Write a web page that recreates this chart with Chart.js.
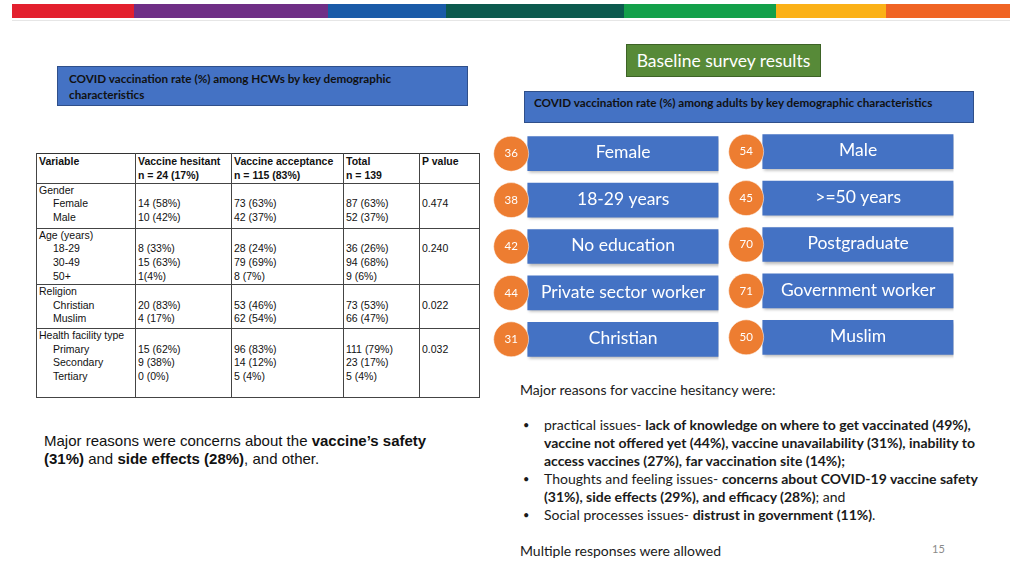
<!DOCTYPE html>
<html>
<head>
<meta charset="utf-8">
<script src="https://cdn.jsdelivr.net/npm/chart.js@4.4.1/dist/chart.umd.min.js"></script>
<style>
    body { margin: 0; background: #fff; }
    #slide { position: relative; width: 1024px; height: 576px; overflow: hidden; font-family: Lato, "Open Sans", sans-serif; color: #1a1a1a; }
    .abs { position: absolute; }
    #stripe { left: 12px; top: 4px; width: 998px; height: 14px; display: flex; }
    #stripe div { height: 100%; }
    #stripe-line { left: 12px; top: 20px; width: 998px; height: 1px; background: #e6e6e6; }
    .hdr { background: #4472c4; border: 1px solid #2f4f8a; box-sizing: border-box; font-weight: bold; color: #111; white-space: nowrap; }
    #hdr-left { left: 57px; top: 66px; width: 411px; height: 40px; font-size: 11.7px; line-height: 16px; padding: 3px 0 0 11px; }
    #hdr-right { left: 524px; top: 91px; width: 450px; height: 32px; font-size: 11.7px; padding: 3px 0 0 9px; }
    #baseline { left: 626px; top: 44px; width: 195px; height: 33px; background: #578a38; border: 1px solid #3d6326; box-sizing: border-box; color: #fff; font-size: 17.5px; text-align: center; line-height: 31px; }
    #tbl { left: 36px; top: 153px; border-collapse: collapse; font-family: "Liberation Sans", Arial, sans-serif; font-size: 10.5px; line-height: 13.8px; color: #111; border: 1.5px solid #333; }
    #tbl td { border-left: 1.5px solid #444; border-right: 1.5px solid #444; vertical-align: top; padding: 0 0 0 2px; white-space: nowrap; }
    #tbl tr { border-bottom: 1.5px solid #444; }
    #tbl .hd td { font-weight: bold; height: 27px; padding-top: 1px; }
    #tbl .grp td { padding-top: 0; }
    .ind { padding-left: 14px; display: inline-block; }
    #para-left { left: 44px; top: 432px; font-family: "Liberation Sans", Arial, sans-serif; font-size: 15px; line-height: 18px; color: #111; white-space: nowrap; }
    .txt { font-size: 14px; line-height: 18px; color: #1a1a1a; white-space: nowrap; }
    .bul { position: absolute; left: -21px; font-size: 11px; }
    #chart-a { left: 474px; top: 112px; }
    #chart-b { left: 709px; top: 110px; }
</style>
</head>
<body>
<div id="slide">
    <div id="stripe" class="abs"></div>
    <div id="stripe-line" class="abs"></div>

    <div id="hdr-left" class="abs hdr">COVID vaccination rate (%) among HCWs by key demographic<br>characteristics</div>
    <div id="baseline" class="abs">Baseline survey results</div>
    <div id="hdr-right" class="abs hdr">COVID vaccination rate (%) among adults by key demographic characteristics</div>

    <table id="tbl" class="abs"></table>

    <div id="para-left" class="abs">Major reasons were concerns about the <b>vaccine’s safety</b><br><b>(31%)</b> and <b>side effects (28%)</b>, and other.</div>

    <canvas id="chart-a" class="abs" width="263" height="269"></canvas>
    <canvas id="chart-b" class="abs" width="263" height="269"></canvas>

    <div class="abs txt" style="left:520px; top:381px;">Major reasons for vaccine hesitancy were:</div>
    <div class="abs txt" style="left:544px; top:416px;">
        <span class="bul">•</span>practical issues- <b>lack of knowledge on where to get vaccinated (49%),</b><br>
        <b>vaccine not offered yet (44%), vaccine unavailability (31%), inability to</b><br>
        <b>access vaccines (27%), far vaccination site (14%);</b>
    </div>
    <div class="abs txt" style="left:544px; top:470px;">
        <span class="bul">•</span>Thoughts and feeling issues- <b>concerns about COVID-19 vaccine safety</b><br>
        <b>(31%), side effects (29%), and efficacy (28%)</b>; and
    </div>
    <div class="abs txt" style="left:544px; top:506px;">
        <span class="bul">•</span>Social processes issues- <b>distrust in government (11%)</b>.
    </div>
    <div class="abs txt" style="left:520px; top:542px;">Multiple responses were allowed</div>
    <div class="abs txt" style="left:932px; top:540px; font-size:11px; color:#8a8a8a;">15</div>
</div>

<script>
// top colour band
const stripeColors = ['#e3202e', '#6f2f86', '#1a5ba8', '#0c5a4e', '#13a04a', '#fbb117', '#f06424'];
const stripeWidths = [122, 194, 118, 178, 152, 110, 124];

// HCW table
const tableHead   = [['Variable', ''], ['Vaccine hesitant', 'n = 24 (17%)'], ['Vaccine acceptance', 'n = 115 (83%)'], ['Total', 'n = 139'], ['P value', '']];
const colWidths   = [98, 95, 111, 75, 59];
const groups      = ['Gender', 'Age (years)', 'Religion', 'Health facility type'];
const groupItems  = [['Female', 'Male'], ['18-29', '30-49', '50+'], ['Christian', 'Muslim'], ['Primary', 'Secondary', 'Tertiary']];
const hesitant    = [['14 (58%)', '10 (42%)'], ['8 (33%)', '15 (63%)', '1(4%)'], ['20 (83%)', '4 (17%)'], ['15 (62%)', '9 (38%)', '0 (0%)']];
const acceptance  = [['73 (63%)', '42 (37%)'], ['28 (24%)', '79 (69%)', '8 (7%)'], ['53 (46%)', '62 (54%)'], ['96 (83%)', '14 (12%)', '5 (4%)']];
const totals      = [['87 (63%)', '52 (37%)'], ['36 (26%)', '94 (68%)', '9 (6%)'], ['73 (53%)', '66 (47%)'], ['111 (79%)', '23 (17%)', '5 (4%)']];
const pValues     = ['0.474', '0.240', '0.022', '0.032'];
const groupHeights = [45, 55, 44, 69];

// adults infographic
const leftLabels  = ['Female', '18-29 years', 'No education', 'Private sector worker', 'Christian'];
const leftRates   = [36, 38, 42, 44, 31];
const rightLabels = ['Male', '>=50 years', 'Postgraduate', 'Government worker', 'Muslim'];
const rightRates  = [54, 45, 70, 71, 50];

const stripe = document.getElementById('stripe');
stripeColors.forEach((c, i) => {
    const d = document.createElement('div');
    d.style.background = c; d.style.width = stripeWidths[i] + 'px';
    stripe.appendChild(d);
});

function buildTable() {
    let html = '<tr class="hd">' + tableHead.map((h, i) =>
        `<td style="width:${colWidths[i] - 2}px">${h[0]}<br>${h[1]}</td>`).join('') + '</tr>';
    groups.forEach((g, gi) => {
        const items = groupItems[gi];
        html += `<tr class="grp" style="height:${groupHeights[gi]}px">
            <td>${g}<br>${items.map(t => `<span class="ind">${t}</span>`).join('<br>')}</td>
            <td><br>${hesitant[gi].join('<br>')}</td>
            <td><br>${acceptance[gi].join('<br>')}</td>
            <td><br>${totals[gi].join('<br>')}</td>
            <td><br>${pValues[gi]}</td>
        </tr>`;
    });
    document.getElementById('tbl').innerHTML = html;
}
buildTable();

const bannerText = {
    id: 'bannerText',
    beforeDatasetDraw(chart, args) {
        if (args.index !== 0) return;
        const ctx = chart.ctx;
        ctx.save();
        ctx.shadowColor = 'rgba(0,0,0,0.28)';
        ctx.shadowBlur = 3;
        ctx.shadowOffsetX = 2;
        ctx.shadowOffsetY = 2;
    },
    afterDatasetDraw(chart, args) {
        if (args.index === 0) chart.ctx.restore();
    },
    afterDatasetsDraw(chart) {
        const ctx = chart.ctx;
        const labels = chart.data.labels;
        const rates = chart.data.datasets[1].rates;
        ctx.save();
        ctx.fillStyle = '#fff';
        ctx.textAlign = 'center';
        ctx.textBaseline = 'middle';
        ctx.font = '17.5px Lato';
        chart.getDatasetMeta(0).data.forEach((b, i) => {
            ctx.fillText(labels[i], (b.base + b.x) / 2, b.y - 1);
        });
        ctx.font = '11.5px Lato';
        chart.getDatasetMeta(1).data.forEach((p, i) => {
            ctx.fillText(rates[i], p.x, p.y);
        });
        ctx.restore();
    }
};

function makeChart(id, labels, rates) {
    new Chart(document.getElementById(id), {
        type: 'bar',
        data: {
            labels,
            datasets: [{
                data: labels.map(() => 1),
                base: 0.08,
                backgroundColor: '#4472c4',
                barThickness: 34,
                order: 2
            }, {
                type: 'scatter',
                rates,
                data: labels.map(l => ({ x: 0, y: l })),
                backgroundColor: '#ed7d31',
                borderColor: 'rgba(255,255,255,0.5)',
                borderWidth: 1,
                pointRadius: 17.5,
                clip: false,
                order: 1
            }]
        },
        options: {
            indexAxis: 'y',
            responsive: false,
            animation: false,
            events: [],
            layout: { padding: 0 },
            plugins: { legend: { display: false }, tooltip: { enabled: false } },
            scales: {
                x: { type: 'linear', min: -0.09, max: 1, display: false },
                y: { type: 'category', display: false, offset: true }
            }
        },
        plugins: [bannerText]
    });
}

document.fonts.load('16px Lato').then(() => {
    makeChart('chart-a', leftLabels, leftRates);
    makeChart('chart-b', rightLabels, rightRates);
});
</script>
</body>
</html>
